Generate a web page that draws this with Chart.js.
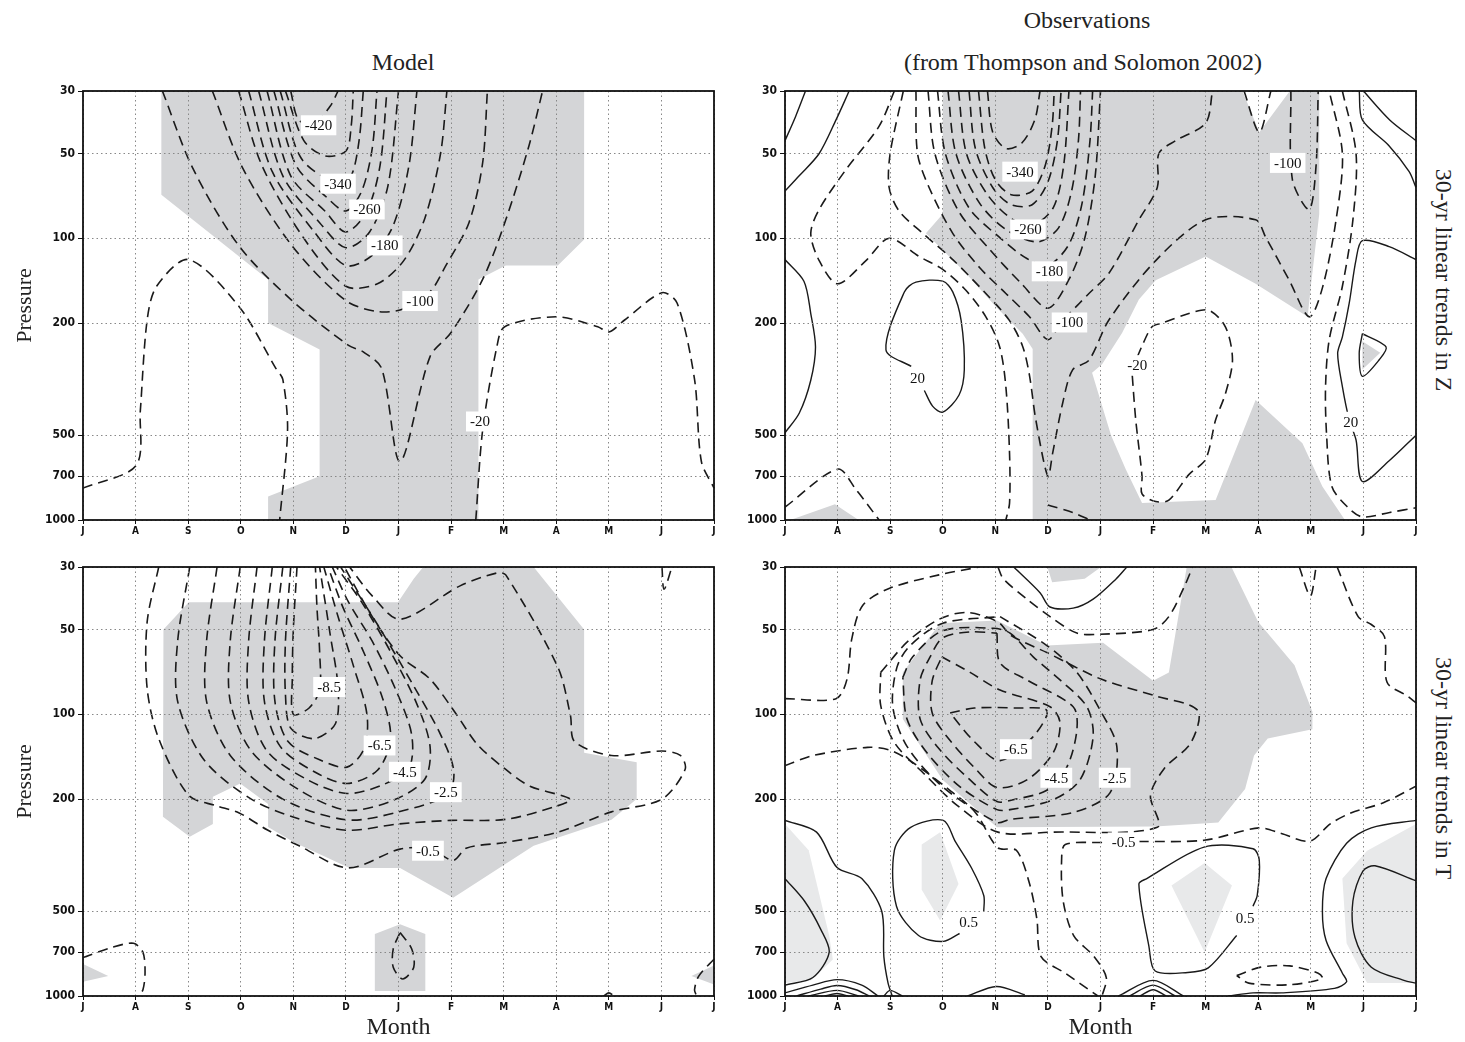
<!DOCTYPE html>
<html>
<head>
<meta charset="utf-8">
<title>30-yr linear trends in Z and T</title>
<script src="https://cdn.jsdelivr.net/npm/chart.js"></script>
<style>
  body { margin: 0; background: #fff; }
  #page { position: relative; width: 1465px; height: 1042px; overflow: hidden;
          font-family: "Liberation Serif", "Times New Roman", serif; color: #222; }
  .panel { position: absolute; }
  .txt { position: absolute; font-size: 24px; white-space: nowrap; transform: translate(-50%, -50%); }
  .side { transform: translate(-50%, -50%) rotate(90deg); }
</style>
</head>
<body>
<div id="page">
  <div class="txt" style="left:403px;top:62px">Model</div>
  <div class="txt" style="left:1087px;top:20px">Observations</div>
  <div class="txt" style="left:1083px;top:62px">(from Thompson and Solomon 2002)</div>
  <div class="txt side" style="left:1443px;top:280px">30-yr linear trends in Z</div>
  <div class="txt side" style="left:1443px;top:768px">30-yr linear trends in T</div>
  <canvas class="panel" id="zModel" width="730" height="460" style="left:0;top:80px"></canvas>
  <canvas class="panel" id="zObs" width="735" height="460" style="left:730px;top:80px"></canvas>
  <canvas class="panel" id="tModel" width="730" height="486" style="left:0;top:556px"></canvas>
  <canvas class="panel" id="tObs" width="735" height="486" style="left:730px;top:556px"></canvas>
</div>
<script>
// axes
const months = ['J', 'A', 'S', 'O', 'N', 'D', 'J', 'F', 'M', 'A', 'M', 'J', 'J'];
const pressureTicks = [30, 50, 100, 200, 500, 700, 1000];

// every point is [month index, pressure hPa]

// ---- model, Z ----
const zModelShade = [
  [[1.49,30],[1.49,70],[3.52,140],[3.52,200],[4.5,248],[4.5,700],[3.52,825],[3.52,1000],[7.52,1000],[7.52,140],[8.04,125],[9.03,125],[9.53,101],[9.53,30]]
];
const zModelDashed = [
  [[0,770],[1.01,640],[1.09,410],[1.22,195],[1.4,148],[2.01,119],[2.97,175],[3.67,290],[3.8,317],[3.89,480],[3.74,1000]],
  [[7.47,1000],[7.6,480],[7.87,243],[8.02,206],[9.0,190],[9.79,206],[10.0,215],[10.3,195],[11.01,156],[11.3,170],[11.63,317],[11.76,620],[12,770]],
  [[1.51,30],[2.08,56],[2.96,106],[3.97,166],[5.05,240],[5.33,253],[5.68,290],[6.03,620],[6.6,263],[7.0,216],[7.6,140],[8.04,86],[8.48,47],[8.74,30]],
  [[2.46,30],[3.03,56],[3.97,106],[4.99,166],[5.6,182],[6.1,178],[6.6,155],[6.9,125],[7.34,88],[7.6,54],[7.69,30]],
  [[2.96,30],[3.4,55],[4.2,100],[5.0,148],[5.6,145],[6.1,120],[6.5,85],[6.8,50],[6.92,30]],
  [[3.15,30],[3.6,58],[4.4,95],[5.0,125],[5.5,115],[5.9,90],[6.2,55],[6.35,30]],
  [[3.34,30],[3.8,60],[4.5,88],[5.0,108],[5.45,95],[5.8,65],[6.0,30]],
  [[3.5,30],[3.95,60],[4.6,80],[5.0,95],[5.4,80],[5.65,55],[5.78,30]],
  [[3.63,30],[4.05,55],[4.65,72],[5.0,80],[5.3,68],[5.5,48],[5.59,30]],
  [[3.75,30],[4.15,52],[4.85,64],[5.1,60],[5.25,45],[5.33,30]],
  [[3.85,30],[4.2,45],[4.6,51],[5.0,49],[5.1,40],[5.14,30]],
  [[3.95,30],[4.1,38],[4.4,39],[4.7,34],[4.85,30]]
];
const zModelLabels = [[4.48,39.7,'-420'],[4.85,64,'-340'],[5.4,79,'-260'],[5.74,106,'-180'],[6.41,167,'-100'],[7.55,447,'-20']];

// ---- observations, Z ----
const zObsShade = [
  [[3.0,30],[8.7,30],[9.02,42],[9.6,30],[10.16,30],[10.16,82],[10.0,148],[9.94,190],[8.95,145],[8.0,116],[7.05,141],[6.73,165],[6.41,217],[6.03,280],[5.84,300],[6.2,500],[6.48,660],[6.79,871],[8.19,850],[8.95,375],[9.84,534],[10.22,760],[10.6,970],[10.65,1000],[4.71,1000],[4.71,247],[4.52,218],[4.01,175],[3.44,133],[2.68,96],[3.0,82]],
  [[0.1,1000],[0.95,880],[1.4,1000]],
  [[10.98,232],[11.32,255],[10.98,292]]
];
const zObsDashed = [
  [[2.08,30],[1.79,40],[1.16,57],[0.65,79],[0.49,96],[0.65,120],[1.0,145],[1.54,120],[1.98,100],[2.55,116],[3.0,129],[3.44,153],[3.82,190],[4.08,242],[4.2,336],[4.27,579],[4.27,871],[4.2,1000]],
  [[2.25,30],[2.0,50],[1.98,66],[2.17,80],[2.62,96],[3.19,119],[3.82,157],[4.27,196],[4.52,242],[4.65,307],[4.77,441],[5.0,700],[5.09,579],[5.28,385],[5.47,293],[5.78,271],[6.16,195],[7.05,120],[8.0,86],[8.95,86],[9.14,99],[9.59,141],[9.97,190],[10.22,150],[10.48,86],[10.6,50],[10.35,30]],
  [[2.49,30],[2.52,50],[2.74,66],[3.19,96],[3.7,127],[4.2,157],[4.65,190],[5.0,229],[5.28,196],[5.6,170],[5.78,157],[6.16,133],[6.73,86],[7.08,66],[7.11,50],[7.43,45],[8.0,39],[8.13,30]],
  [[2.72,30],[2.85,50],[3.3,80],[3.9,110],[4.5,145],[5.0,177],[5.4,140],[5.7,100],[5.9,60],[6.0,30]],
  [[2.9,30],[3.05,50],[3.5,78],[4.1,100],[4.6,118],[5.0,125],[5.4,105],[5.65,75],[5.8,45],[5.85,30]],
  [[3.1,30],[3.25,50],[3.7,75],[4.2,93],[4.8,103],[5.2,92],[5.45,68],[5.58,45],[5.62,30]],
  [[3.3,30],[3.45,50],[3.85,70],[4.3,85],[4.7,90],[5.1,78],[5.3,55],[5.4,30]],
  [[3.5,30],[3.62,48],[3.95,66],[4.3,76],[4.7,76],[5.0,63],[5.18,45],[5.25,30]],
  [[3.68,30],[3.8,48],[4.0,62],[4.3,70],[4.7,68],[4.95,55],[5.08,40],[5.12,30]],
  [[3.85,30],[3.95,42],[4.2,48],[4.5,46],[4.75,38],[4.85,30]],
  [[9.62,30],[9.65,62],[9.97,79],[10.1,55],[10.14,30]],
  [[8.73,30],[9.02,42],[9.24,30]],
  [[10.6,30],[10.86,50],[10.8,86],[10.6,148],[10.35,229],[10.28,336],[10.3,500],[10.4,760],[10.7,900],[10.98,975],[11.5,940],[12,905]],
  [[6.7,264],[6.79,241],[6.98,206],[7.17,200],[7.68,185],[8.06,180],[8.38,207],[8.51,270],[8.38,354],[8.19,441],[8.0,608],[7.68,690],[7.3,850],[7.05,860],[6.79,808],[6.79,700],[6.67,441],[6.6,300]],
  [[0,900],[1.0,660],[1.35,780],[1.79,1000]],
  [[5.0,884],[5.47,940],[5.8,1000]]
];
const zObsSolid = [
  [[0,45],[0.2,37],[0.39,30]],
  [[1.22,30],[0.97,38],[0.65,50],[0.27,60],[0,68]],
  [[0,119],[0.36,142],[0.49,185],[0.58,243],[0.49,319],[0.27,418],[0,490]],
  [[2.4,285],[1.92,249],[2.27,155],[2.49,143],[3.0,142],[3.19,155],[3.35,196],[3.41,293],[3.31,360],[3.0,414],[2.81,395],[2.65,347]],
  [[11.0,30],[11.5,38],[12,45]],
  [[10.92,30],[10.98,38],[11.49,47],[11.87,58],[12,66]],
  [[12,119],[11.49,107],[10.98,102],[10.86,119],[10.73,170],[10.6,224],[10.51,256],[10.6,336],[10.73,441],[10.86,520],[10.98,730],[11.49,616],[12,500]],
  [[10.98,218],[11.43,243],[11.3,270],[10.98,309],[10.92,256],[10.98,218]]
];
const zObsLabels = [[4.47,58,'-340'],[4.62,93,'-260'],[5.03,131,'-180'],[5.41,199,'-100'],[9.56,54,'-100'],[6.7,282,'-20'],[2.52,314,'20'],[10.76,448,'20']];

// ---- model, T ----
const tModelShade = [
  [[1.53,50],[2.01,40],[5.99,40],[6.29,33],[6.47,30],[8.57,30],[9.53,50],[9.53,137],[10.53,148],[10.53,200],[10.05,237],[8.57,293],[7.04,448],[6.03,351],[5.07,351],[4.02,285],[3.52,251],[3.52,208],[2.99,176],[2.47,196],[2.47,245],[2.03,272],[1.52,231]],
  [[5.55,603],[6.03,556],[6.51,603],[6.51,960],[5.55,960]],
  [[0,770],[0.48,850],[0,890]],
  [[12,780],[11.57,850],[12,910]]
];
const tModelDashed = [
  [[1.44,30],[1.22,47],[1.22,81],[1.44,122],[2.01,194],[2.53,211],[2.97,224],[3.5,257],[4.11,293],[5.04,351],[6.03,301],[6.6,300],[7.04,330],[7.3,298],[8.04,285],[9.03,262],[10.05,222],[11.01,200],[11.45,157],[11.36,140],[11.01,135],[10.05,140],[9.35,125],[9.27,101],[9.03,68],[8.04,32],[7.87,31.5],[7.17,35],[6.03,46],[5.5,38],[5.07,30]],
  [[2.03,30],[1.8,55],[1.8,90],[2.3,145],[3.2,200],[4.1,235],[5.02,258],[6.0,245],[7.0,238],[8.04,236],[9.0,212],[9.27,200],[8.5,180],[8.04,157],[7.5,128],[7.1,100],[6.6,75],[6.03,62],[5.5,45],[4.97,30]],
  [[2.55,30],[2.35,55],[2.35,90],[2.8,140],[3.8,200],[5.02,237],[6.0,222],[6.94,192],[7.05,158],[6.8,118],[6.3,80],[5.6,48],[4.9,30]],
  [[2.99,30],[2.8,55],[2.8,90],[3.2,135],[4.1,185],[5.02,219],[5.9,202],[6.5,170],[6.6,130],[6.35,92],[5.85,60],[5.3,40],[4.82,30]],
  [[3.31,30],[3.15,55],[3.15,90],[3.5,135],[4.3,172],[5.02,191],[5.7,178],[6.2,155],[6.25,118],[5.95,82],[5.5,55],[5.05,40],[4.74,30]],
  [[3.6,30],[3.45,55],[3.45,90],[3.75,130],[4.4,160],[5.02,176],[5.6,158],[5.85,122],[5.7,88],[5.3,58],[4.95,42],[4.66,30]],
  [[3.8,30],[3.65,55],[3.65,90],[3.9,125],[4.5,145],[5.02,154],[5.35,132],[5.4,100],[5.15,68],[4.85,45],[4.58,30]],
  [[3.95,30],[3.85,55],[3.85,85],[3.95,112],[4.4,122],[4.8,108],[4.85,80],[4.7,52],[4.5,30]],
  [[4.07,30],[4.0,50],[3.98,75],[4.0,100],[4.3,95],[4.5,82],[4.5,60],[4.45,42],[4.42,30]],
  [[0,730],[0.52,675],[0.96,650],[1.14,700],[1.18,825],[1.14,950],[1.05,1000]],
  [[6.03,595],[6.25,680],[6.29,790],[6.08,870],[5.9,790],[5.9,680],[6.03,595]],
  [[9.9,1000],[10.0,975],[10.1,1000]],
  [[12,740],[11.71,850],[11.63,950],[11.67,1000]],
  [[11.01,30],[11.05,36],[11.2,30]]
];
const tModelLabels = [[4.68,80,'-8.5'],[5.64,129,'-6.5'],[6.12,160,'-4.5'],[6.9,189,'-2.5'],[6.56,305,'-0.5']];

// ---- observations, T ----
const tObsShade = [
  [[2.24,71],[2.95,47.5],[4.03,46.5],[4.98,57],[6.05,55.7],[7.0,76],[7.3,71],[7.64,30],[8.49,30],[9.0,47],[9.69,67],[10.03,98],[10.03,113],[9.18,122],[8.92,140],[8.75,184],[8.24,242],[7.04,250],[4.03,252],[3.0,171],[2.24,104]],
  [[4.99,30],[5.08,34],[5.7,33],[6.01,30]]
];
const tObsLight = [
  [[0,245],[0.45,304],[0.84,610],[0.91,742],[0.5,880],[0,900]],
  [[2.6,290],[2.95,262],[3.3,400],[2.95,540],[2.6,420]],
  [[7.35,405],[7.98,337],[8.5,405],[7.98,700]],
  [[10.6,383],[11.07,305],[12,245],[12,900],[11.07,900],[10.68,650]]
];
const tObsDashed = [
  [[0,88],[0.97,88],[1.18,75],[1.27,54],[1.48,41],[1.99,35.7],[2.93,32],[3.7,30]],
  [[0,152],[0.54,140],[1.57,131],[1.99,134],[2.42,148],[3.1,184],[3.62,223],[4.05,298],[4.4,304],[4.64,393],[4.79,533],[4.87,725],[5.33,830],[5.95,1000]],
  [[6.03,285],[5.33,290],[5.26,330],[5.29,460],[5.49,610],[5.88,725],[6.11,860],[6.03,1000]],
  [[6.73,283],[7.97,280],[9.02,253],[9.44,265],[9.98,282],[10.37,245],[10.76,224],[11.38,206],[12,180]],
  [[1.82,71],[2.34,55],[2.93,46],[3.45,43.5],[4.05,47],[4.3,52.5],[4.99,60.5],[6.01,75],[7.04,86],[7.85,97],[7.72,126],[7.21,156],[6.95,194],[7.08,252],[5.07,262],[4.05,262],[3.28,211],[2.68,165],[2.08,126],[1.82,93],[1.82,71]],
  [[4.05,30],[4.15,33],[4.6,39],[5.04,45],[5.55,51.5],[5.99,52],[7.0,50],[7.3,45],[7.6,35],[7.75,30]],
  [[4.09,45],[4.98,57],[5.55,71],[5.99,96.5],[6.31,130],[6.18,190],[5.48,223],[4.28,236],[4.03,242],[3.0,181],[2.32,130],[2.05,94],[2.13,68],[2.38,57],[3.0,47.5],[4.09,45]],
  [[2.24,74],[2.43,62.5],[3.0,50.5],[3.96,49.5],[4.28,51.5],[4.72,62.5],[5.23,75.5],[5.74,94],[5.86,120],[5.61,171],[5.1,201],[4.28,218],[4.03,218],[3.33,181],[2.7,137],[2.32,104],[2.24,74]],
  [[4.03,51.5],[4.09,65.7],[4.6,75.5],[5.48,94],[5.55,114],[5.36,154],[4.98,186],[4.34,201],[4.03,204],[3.52,171],[2.95,134],[2.57,104],[2.57,75.5],[2.76,62.5],[3.0,53.5],[3.52,51],[4.03,51.5]],
  [[2.98,62.5],[3.52,71],[4.09,82],[5.04,94],[5.23,107],[5.1,137],[4.6,171],[4.03,182],[3.65,158],[3.14,124],[2.8,99],[2.8,76],[2.98,62.5]],
  [[3.14,99],[3.6,95],[4.4,95],[4.98,97],[4.72,120],[4.09,146],[3.6,125],[3.14,99]],
  [[10.5,30],[10.9,45],[11.15,48],[11.4,53],[11.45,77],[11.83,86],[12,91]],
  [[9.78,30],[9.99,38],[10.1,30]],
  [[8.59,846],[9.05,790],[9.6,782],[10.14,830],[10.22,868],[9.6,912],[8.82,900],[8.59,846]]
];
const tObsSolid = [
  [[4.35,30],[4.85,37],[5.04,41.6],[5.48,42],[5.86,39],[6.3,33],[6.5,30]],
  [[0,238],[0.6,262],[0.99,350],[1.46,383],[1.84,500],[1.88,725],[1.96,900],[2.04,1000]],
  [[0,383],[0.37,460],[0.68,580],[0.84,700],[0.53,860],[0,915]],
  [[3.78,500],[3.78,440],[3.55,352],[3.24,283],[3.01,238],[2.39,252],[2.08,304],[2.12,480],[2.54,610],[3.01,640],[3.32,600]],
  [[8.9,480],[8.98,440],[9.02,330],[8.9,300],[7.97,296],[6.88,383],[6.73,400],[6.92,665],[7.04,815],[7.66,825],[8.05,795],[8.59,610]],
  [[12,238],[11.15,253],[10.68,287],[10.29,383],[10.22,500],[10.29,635],[10.6,830],[10.68,890],[10.45,940],[9.44,975],[8.9,975],[8.43,1000]],
  [[12,390],[11.22,345],[10.99,360],[10.8,460],[10.84,620],[11.15,790],[11.77,880],[12,900]],
  [[0,975],[0.53,915],[0.99,875],[1.46,915],[1.77,1000]],
  [[0.22,1000],[0.68,945],[0.99,918],[1.35,950],[1.6,1000]],
  [[0.45,1000],[0.99,955],[1.4,1000]],
  [[0.75,1000],[0.99,980],[1.2,1000]],
  [[1.88,1000],[2.0,955],[2.23,1000]],
  [[3.47,1000],[4.02,925],[4.56,990]],
  [[6.34,1000],[7.0,880],[7.58,1000]],
  [[6.55,1000],[7.0,915],[7.42,1000]],
  [[6.75,1000],[7.0,950],[7.25,1000]]
];
const tObsLabels = [[4.39,133,'-6.5'],[5.16,168,'-4.5'],[6.27,168,'-2.5'],[6.44,285,'-0.5'],[3.49,548,'0.5'],[8.75,527,'0.5']];

// ---- drawing ----
const GRAY = '#d4d5d7';
const LIGHT = '#e8e9ea';
const INK = '#1a1a1a';
const TICK_FONT = '"DejaVu Sans Condensed", "DejaVu Sans", sans-serif';
const SERIF = '"Liberation Serif", "Times New Roman", serif';

const toPts = line => line.map(([x, y]) => ({x, y}));

function shadeSets(polys, color) {
  return polys.map(p => ({
    data: toPts(p), fill: 'shape', backgroundColor: color,
    borderColor: 'rgba(0,0,0,0)', borderWidth: 1, tension: 0, order: 3, clip: 0
  }));
}

function lineSets(lines, dashed) {
  return lines.map(l => ({
    data: toPts(l), fill: false, borderColor: INK,
    borderWidth: dashed ? 1.6 : 1.4,
    borderDash: dashed ? [10, 6] : [], tension: 0.3, order: 1, clip: 0
  }));
}

const framePlugin = {
  id: 'frame',
  afterDraw(chart) {
    const {ctx, chartArea: a} = chart;
    ctx.save();
    ctx.strokeStyle = '#111';
    ctx.lineWidth = 1.8;
    ctx.strokeRect(a.left, a.top, a.right - a.left, a.bottom - a.top);
    ctx.restore();
  }
};

const labelPlugin = items => ({
  id: 'contourLabels',
  afterDraw(chart) {
    const {ctx, scales: {x, y}} = chart;
    ctx.save();
    ctx.font = '15px ' + SERIF;
    ctx.textAlign = 'center';
    ctx.textBaseline = 'middle';
    items.forEach(([m, p, txt]) => {
      const px = x.getPixelForValue(m);
      const py = y.getPixelForValue(p);
      const w = ctx.measureText(txt).width + 8;
      ctx.fillStyle = '#fff';
      ctx.fillRect(px - w / 2, py - 10, w, 20);
      ctx.fillStyle = '#111';
      ctx.fillText(txt, px, py + 1);
    });
    ctx.restore();
  }
});

function makeChart(id, datasets, labels, o) {
  new Chart(document.getElementById(id), {
    type: 'line',
    data: {datasets},
    options: {
      responsive: false,
      animation: false,
      events: [],
      layout: {padding: {top: 11, right: o.padRight, left: 0, bottom: 0}},
      elements: {point: {radius: 0}},
      plugins: {legend: {display: false}, tooltip: {enabled: false}},
      scales: {
        x: {
          type: 'linear', min: 0, max: 12,
          afterFit: s => { s.height = o.xHeight; },
          afterBuildTicks: s => { s.ticks = months.map((_, i) => ({value: i})); },
          ticks: {autoSkip: false, maxRotation: 0, padding: 1, color: '#111',
                  font: {family: TICK_FONT, size: 10, weight: 'bold'},
                  callback: v => months[v]},
          grid: {color: '#888', lineWidth: 1, z: 1, tickLength: 4,
                 tickColor: '#111', tickBorderDash: []},
          border: {display: false, dash: [1.5, 3]},
          title: {display: o.monthTitle, text: 'Month', color: '#222',
                  font: {family: SERIF, size: 24}, padding: {top: 0, bottom: 0}}
        },
        y: {
          type: 'logarithmic', reverse: true, min: 30, max: 1000,
          afterFit: s => { s.width = o.yWidth; },
          afterBuildTicks: s => { s.ticks = pressureTicks.map(v => ({value: v})); },
          ticks: {autoSkip: false, padding: 3, color: '#111',
                  font: {family: TICK_FONT, size: 12, weight: 'bold'},
                  callback: v => String(v)},
          grid: {color: '#888', lineWidth: 1, z: 1, tickLength: 5,
                 tickColor: '#111', tickBorderDash: []},
          border: {display: false, dash: [1.5, 3]},
          title: {display: o.pressureTitle, text: 'Pressure', color: '#222',
                  font: {family: SERIF, size: 22}, padding: {top: 12, bottom: 0}}
        }
      }
    },
    plugins: [framePlugin, labelPlugin(labels)]
  });
}

const left = {padRight: 16, yWidth: 83, pressureTitle: true};
const right = {padRight: 49, yWidth: 55, pressureTitle: false};

makeChart('zModel',
  [...lineSets(zModelDashed, true), ...shadeSets(zModelShade, GRAY)],
  zModelLabels, {...left, xHeight: 20, monthTitle: false});

makeChart('zObs',
  [...lineSets(zObsDashed, true), ...lineSets(zObsSolid, false), ...shadeSets(zObsShade, GRAY)],
  zObsLabels, {...right, xHeight: 20, monthTitle: false});

makeChart('tModel',
  [...lineSets(tModelDashed, true), ...shadeSets(tModelShade, GRAY)],
  tModelLabels, {...left, xHeight: 46, monthTitle: true});

makeChart('tObs',
  [...lineSets(tObsDashed, true), ...lineSets(tObsSolid, false), ...shadeSets(tObsLight, LIGHT), ...shadeSets(tObsShade, GRAY)],
  tObsLabels, {...right, xHeight: 46, monthTitle: true});
</script>
</body>
</html>
